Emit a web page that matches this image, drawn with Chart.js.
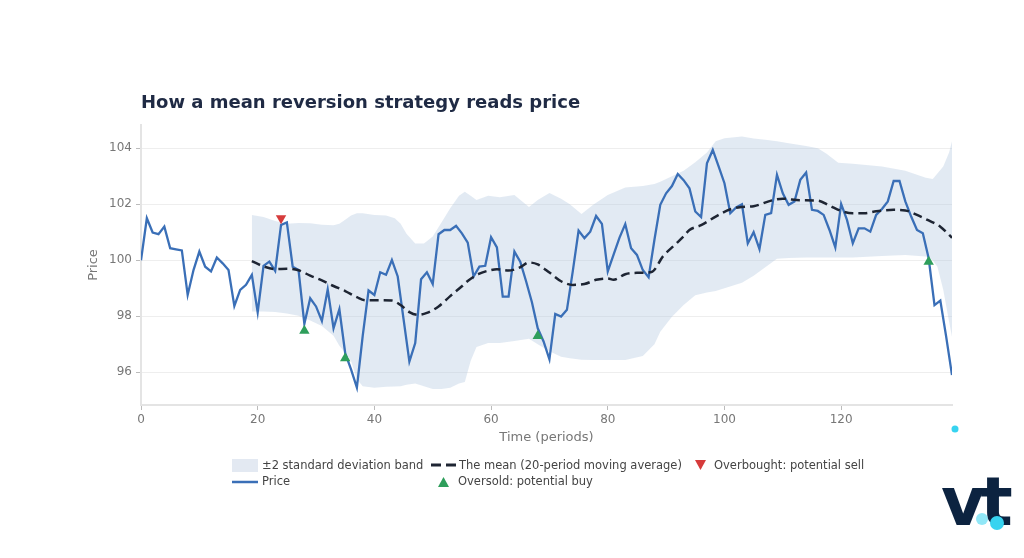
<!DOCTYPE html>
<html>
<head>
<meta charset="utf-8">
<script src="https://cdn.jsdelivr.net/npm/chart.js@4"></script>
<style>
  body { margin: 0; background: #fff; font-family: "DejaVu Sans", sans-serif; }
  #wrap { position: relative; width: 1024px; height: 558px; overflow: hidden; }
  #c { position: absolute; left: 0; top: 0; }
  #title { position: absolute; left: 141px; top: 91px; font-size: 18px; font-weight: bold; color: #1f2a44; }
  .lg { position: absolute; font-size: 11.5px; color: #444; white-space: nowrap; }
  .ic { position: absolute; }
  #logo { position: absolute; left: 941px; top: 468px; font-size: 68px; font-weight: bold; color: #0c2340; letter-spacing: -5px; line-height: 68px; }
</style>
</head>
<body>
<div id="wrap">
  <canvas id="c" width="1024" height="558"></canvas>
  <div id="title">How a mean reversion strategy reads price</div>

  <svg class="ic" style="left:232px;top:459px" width="26" height="13"><rect width="26" height="13" fill="#e3e9f2"/></svg>
  <div class="lg" style="left:262px;top:458px">±2 standard deviation band</div>
  <svg class="ic" style="left:430px;top:459px" width="28" height="12"><line x1="1" y1="6" x2="11" y2="6" stroke="#1e2533" stroke-width="3"/><line x1="16" y1="6" x2="26" y2="6" stroke="#1e2533" stroke-width="3"/></svg>
  <div class="lg" style="left:459px;top:458px">The mean (20-period moving average)</div>
  <svg class="ic" style="left:694px;top:459px" width="13" height="12"><polygon points="1,1 12,1 6.5,11" fill="#d63b3b"/></svg>
  <div class="lg" style="left:714px;top:458px">Overbought: potential sell</div>

  <svg class="ic" style="left:232px;top:476px" width="26" height="12"><line x1="0" y1="6" x2="26" y2="6" stroke="#3a6fb7" stroke-width="2.5"/></svg>
  <div class="lg" style="left:262px;top:474px">Price</div>
  <svg class="ic" style="left:437px;top:476px" width="13" height="12"><polygon points="6.5,1 12,11 1,11" fill="#2e9e5b"/></svg>
  <div class="lg" style="left:458px;top:474px">Oversold: potential buy</div>

  <svg class="ic" style="left:948px;top:423px" width="12" height="12"><circle cx="7" cy="6" r="3.5" fill="#37d3f0"/></svg>
  <div id="logo">vt</div>
  <svg class="ic" style="left:970px;top:506px" width="36" height="26"><circle cx="12" cy="13" r="6" fill="#37d3f0" opacity="0.55"/><circle cx="27" cy="17" r="7" fill="#37d3f0"/></svg>
</div>
<script>
// price per period (t = 0..139)
const priceVals = [
  100.0, 101.5, 100.99, 100.93, 101.2, 100.43, 100.39, 100.35, 98.76, 99.65,
  100.31, 99.77, 99.6, 100.1, 99.89, 99.65, 98.37, 98.94, 99.12, 99.48,
  98.14, 99.8, 99.95, 99.62, 101.26, 101.35, 99.77, 99.65, 97.73, 98.64,
  98.35, 97.83, 98.96, 97.57, 98.25, 96.68, 96.1, 95.45, 97.3, 98.92,
  98.76, 99.57, 99.48, 100.01, 99.42, 97.9, 96.38, 97.04, 99.32, 99.57,
  99.15, 100.93, 101.08, 101.08, 101.23, 100.96, 100.63, 99.42, 99.77, 99.8,
  100.82, 100.46, 98.7, 98.7, 100.31, 99.95, 99.25, 98.5, 97.57, 97.1,
  96.46, 98.08, 97.99, 98.23, 99.6, 101.06, 100.79, 101.02, 101.58, 101.3,
  99.6, 100.2, 100.8, 101.29, 100.43, 100.19, 99.65, 99.39, 100.73, 101.98,
  102.39, 102.65, 103.08, 102.86, 102.57, 101.74, 101.54, 103.46, 103.94, 103.35,
  102.75, 101.68, 101.89, 102.0, 100.6, 101.0, 100.4, 101.62, 101.68, 103.05,
  102.39, 101.98, 102.1, 102.87, 103.13, 101.8, 101.76, 101.62, 101.08, 100.46,
  102.01, 101.44, 100.61, 101.14, 101.14, 101.02, 101.62, 101.83, 102.1, 102.83,
  102.83, 102.1, 101.56, 101.08, 100.96, 100.07, 98.4, 98.56, 97.27, 95.9
];
const periods = priceVals.map((v, i) => i);

// 20-period moving average, read at these periods
const maT = [19, 21, 23, 25, 27, 29, 31, 33, 35, 37, 38.5, 40, 43, 44.5, 46, 47.5, 49, 51, 53, 55,
  56, 58, 60, 61, 63, 65, 66.5, 68, 70, 72, 74, 76, 78, 80, 81, 83, 85, 87.5, 89.5, 91.5,
  93, 94, 96, 98.5, 101, 103, 105, 108, 110, 113, 116, 118, 120, 122, 124, 126, 129, 131, 133, 135,
  137, 139];
const maVals = [99.97, 99.78, 99.68, 99.7, 99.64, 99.45, 99.28, 99.08, 98.9, 98.68, 98.57, 98.57, 98.56, 98.4, 98.15, 98.05, 98.12, 98.35, 98.72, 99.07,
  99.26, 99.52, 99.65, 99.68, 99.63, 99.75, 99.92, 99.85, 99.56, 99.25, 99.12, 99.15, 99.3, 99.35, 99.3, 99.5, 99.55, 99.58, 100.15, 100.55,
  100.85, 101.08, 101.25, 101.56, 101.82, 101.9, 101.93, 102.13, 102.2, 102.14, 102.13, 101.95, 101.76, 101.68, 101.68, 101.75, 101.8, 101.78, 101.62, 101.42,
  101.2, 100.8];

// +/-2 standard deviation band, read at these periods
const bandT = [19, 21, 23, 25, 27, 29, 31, 33, 34, 35, 36, 37, 38, 40, 42, 43.5, 44.5, 45.5, 47, 48.5,
  50, 51.5, 53, 54.5, 55.5, 56.5, 57.5, 59.5, 61.5, 64, 66.5, 68, 70, 72, 73.5, 75.5, 77.5, 80, 83, 86,
  88, 89, 91, 93, 95, 97, 98.5, 100, 103, 105, 107, 109, 111, 114, 116, 117.5, 119.5, 122, 127, 131,
  134.5, 135.7, 136.5, 137.5, 138.5, 139];
const bandUpper = [101.62, 101.54, 101.4, 101.3, 101.33, 101.32, 101.27, 101.25, 101.3, 101.45, 101.6, 101.68, 101.68, 101.62, 101.6, 101.5, 101.3, 100.95, 100.6, 100.6,
  100.85, 101.35, 101.86, 102.3, 102.45, 102.3, 102.15, 102.3, 102.25, 102.33, 101.9, 102.15, 102.4, 102.2, 102.0, 101.65, 101.98, 102.33, 102.6, 102.65,
  102.72, 102.8, 103.0, 103.2, 103.5, 103.85, 104.25, 104.36, 104.42, 104.35, 104.3, 104.25, 104.18, 104.08, 104.0, 103.8, 103.48, 103.45, 103.35, 103.2,
  102.95, 102.9, 103.1, 103.35, 103.85, 104.25];
const bandLower = [98.17, 98.17, 98.15, 98.1, 98.02, 97.85, 97.65, 97.3, 96.95, 96.7, 96.4, 95.75, 95.5, 95.45, 95.48, 95.49, 95.5, 95.55, 95.6, 95.5,
  95.4, 95.4, 95.45, 95.6, 95.65, 96.4, 96.9, 97.04, 97.04, 97.12, 97.2, 97.0, 96.75, 96.55, 96.5, 96.45, 96.44, 96.44, 96.44, 96.58,
  97.0, 97.45, 97.98, 98.4, 98.75, 98.85, 98.9, 99.0, 99.2, 99.45, 99.75, 100.05, 100.08, 100.1, 100.1, 100.1, 100.1, 100.1, 100.15, 100.19,
  100.13, 100.0, 99.77, 98.95, 97.8, 97.27];

// signals
const sellT = [24];
const sellVals = [101.5];
const buyT = [28, 35, 68, 135];
const buyVals = [97.48, 96.5, 97.29, 99.95];

// axis ticks
const xTicks = [0, 20, 40, 60, 80, 100, 120];
const yTicks = [96, 98, 100, 102, 104];

const pts = (xs, ys) => xs.map((x, i) => ({ x: x, y: ys[i] }));

const ctx = document.getElementById('c');
new Chart(ctx, {
  type: 'line',
  data: {
    datasets: [
      {
        label: '±2 standard deviation band',
        data: pts(bandT, bandUpper),
        borderWidth: 0,
        pointRadius: 0,
        backgroundColor: 'rgba(176,196,222,0.36)',
        fill: '+1',
        order: 4
      },
      {
        label: 'lower',
        data: pts(bandT, bandLower),
        borderWidth: 0,
        pointRadius: 0,
        fill: false,
        order: 4
      },
      {
        label: 'Price',
        data: pts(periods, priceVals),
        borderColor: '#3a6fb7',
        borderWidth: 2.3,
        pointRadius: 0,
        fill: false,
        order: 3
      },
      {
        label: 'The mean (20-period moving average)',
        data: pts(maT, maVals),
        borderColor: '#1e2533',
        borderWidth: 2.5,
        borderDash: [9, 5],
        pointRadius: 0,
        cubicInterpolationMode: 'monotone',
        fill: false,
        order: 2
      },
      {
        label: 'Overbought: potential sell',
        data: pts(sellT, sellVals),
        showLine: false,
        pointStyle: 'triangle',
        rotation: 180,
        pointRadius: 6,
        pointBackgroundColor: '#d63b3b',
        pointBorderWidth: 0,
        order: 1
      },
      {
        label: 'Oversold: potential buy',
        data: pts(buyT, buyVals),
        showLine: false,
        pointStyle: 'triangle',
        pointRadius: 6,
        pointBackgroundColor: '#2e9e5b',
        pointBorderWidth: 0,
        order: 1
      }
    ]
  },
  options: {
    responsive: false,
    animation: false,
    layout: { padding: { left: 86, right: 72, top: 125, bottom: 113 } },
    scales: {
      x: {
        type: 'linear',
        min: 0,
        max: 139,
        afterFit: (s) => { s.height = 40; },
        afterBuildTicks: (s) => { s.ticks = xTicks.map(v => ({ value: v })); },
        ticks: { color: '#777', font: { family: 'DejaVu Sans', size: 12 }, padding: 3 },
        grid: { drawOnChartArea: false, drawTicks: true, tickLength: 5, tickColor: '#bbb' },
        border: { color: '#e4e4e4', width: 2 },
        title: { display: true, text: 'Time (periods)', color: '#777', font: { family: 'DejaVu Sans', size: 13 }, padding: { top: 0, bottom: 0 } }
      },
      y: {
        min: 94.83,
        max: 104.83,
        afterFit: (s) => { s.width = 55; },
        afterBuildTicks: (s) => { s.ticks = yTicks.map(v => ({ value: v })); },
        ticks: { color: '#777', font: { family: 'DejaVu Sans', size: 12 }, padding: 4 },
        grid: { color: '#eeeeee', tickLength: 5, tickColor: '#bbb' },
        border: { color: '#e4e4e4', width: 2 },
        title: { display: true, text: 'Price', color: '#777', font: { family: 'DejaVu Sans', size: 13 }, padding: 0 }
      }
    },
    plugins: {
      legend: { display: false },
      tooltip: { enabled: false }
    }
  }
});
</script>
</body>
</html>
